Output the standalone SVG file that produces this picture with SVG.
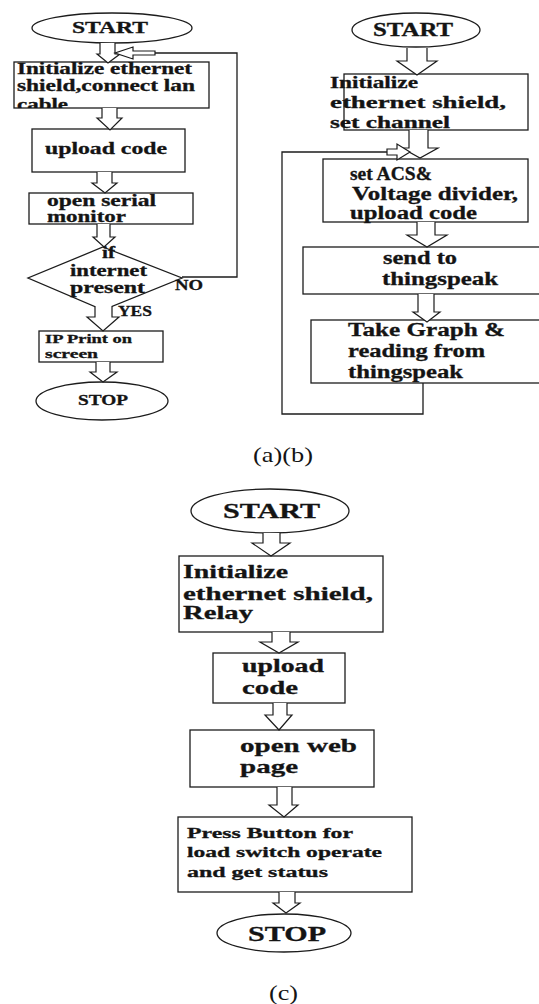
<svg xmlns="http://www.w3.org/2000/svg" width="539" height="1004" viewBox="0 0 539 1004">
  <style>
    .shape { fill: #ffffff; stroke: #1c1c1c; stroke-width: 1.3; }
    .line { fill: none; stroke: #1c1c1c; stroke-width: 1.3; }
    .arrow { fill: #ffffff; stroke: #1c1c1c; stroke-width: 1.2; stroke-linejoin: miter; }
    .t { font-family: "Liberation Serif", "Times New Roman", serif; font-weight: bold; fill: #141414; stroke: #141414; stroke-width: 0.3; }
    .cap { font-family: "Liberation Serif", "Times New Roman", serif; fill: #141414; font-size: 21px; }
  </style>
  <defs>
    <clipPath id="clipA1">
      <rect x="14" y="62" width="195" height="46"/>
    </clipPath>
  </defs>
  <rect width="539" height="1004" fill="#ffffff"/>

  <!-- ===================== Flowchart (a) ===================== -->
  <g id="a-start">
    <ellipse class="shape" cx="112" cy="28" rx="80" ry="15"/>
    <text class="t" x="72" y="33" font-size="16" textLength="76" lengthAdjust="spacingAndGlyphs">START</text>
  </g>
  <g id="a-init">
    <rect class="shape" x="14" y="62" width="195" height="46"/>
    <g clip-path="url(#clipA1)">
      <text class="t" x="17" y="74" font-size="16" textLength="175" lengthAdjust="spacingAndGlyphs">Initialize ethernet</text>
      <text class="t" x="17" y="91" font-size="16" textLength="178" lengthAdjust="spacingAndGlyphs">shield,connect lan</text>
      <text class="t" x="17" y="110" font-size="16" textLength="51" lengthAdjust="spacingAndGlyphs">cable</text>
    </g>
  </g>
  <g id="a-upload">
    <rect class="shape" x="32" y="129" width="153" height="43"/>
    <text class="t" x="45" y="154" font-size="17" textLength="122" lengthAdjust="spacingAndGlyphs">upload code</text>
  </g>
  <g id="a-serial">
    <rect class="shape" x="29" y="193" width="164" height="31"/>
    <text class="t" x="47" y="206" font-size="16" textLength="109" lengthAdjust="spacingAndGlyphs">open serial</text>
    <text class="t" x="47" y="222" font-size="16" textLength="79" lengthAdjust="spacingAndGlyphs">monitor</text>
  </g>
  <g id="a-decision">
    <polygon class="shape" points="103,247 182,278 103,310 28,278"/>
    <text class="t" x="102" y="258" font-size="16" textLength="13" lengthAdjust="spacingAndGlyphs">if</text>
    <text class="t" x="70" y="276" font-size="16" textLength="77" lengthAdjust="spacingAndGlyphs">internet</text>
    <text class="t" x="70" y="293" font-size="16" textLength="75" lengthAdjust="spacingAndGlyphs">present</text>
  </g>
  <g id="a-ip">
    <rect class="shape" x="39" y="331" width="124" height="31"/>
    <text class="t" x="45" y="343" font-size="13" textLength="87" lengthAdjust="spacingAndGlyphs">IP Print on</text>
    <text class="t" x="45" y="358" font-size="13" textLength="53" lengthAdjust="spacingAndGlyphs">screen</text>
  </g>
  <g id="a-stop">
    <ellipse class="shape" cx="102" cy="401" rx="66" ry="19"/>
    <text class="t" x="78" y="405" font-size="15" textLength="50" lengthAdjust="spacingAndGlyphs">STOP</text>
  </g>

  <g id="a-connectors">
    <path class="arrow" d="M100,43 V54 H97 L108,63 L120,54 H115 V43"/>
    <path class="arrow" d="M102,108 V118 H97 L110,130 L122,118 H117 V108"/>
    <path class="arrow" d="M97,172 V183 H92 L105,193 L117,183 H112 V172"/>
    <path class="arrow" d="M97,224 V237 H93 L104,247 L115,237 H110 V224"/>
    <path class="arrow" d="M95,306 V317 H87 L103,331 L119,317 H112 V306"/>
    <path class="arrow" d="M96,362 V372 H90 L103,382 L117,372 H110 V362"/>
    <!-- NO branch loops back to the first step -->
    <polyline class="line" points="182,277 237,277 237,53 155,53"/>
    <path class="arrow" d="M155,51 H133 V47 L115,53 L133,59 V55 H155 Z"/>
    <text class="t" x="175" y="290" font-size="15" textLength="28" lengthAdjust="spacingAndGlyphs">NO</text>
    <text class="t" x="118" y="316" font-size="15" textLength="34" lengthAdjust="spacingAndGlyphs">YES</text>
  </g>

  <!-- ===================== Flowchart (b) ===================== -->
  <g id="b-start">
    <ellipse class="shape" cx="416" cy="30" rx="64" ry="17"/>
    <text class="t" x="373" y="36" font-size="18" textLength="80" lengthAdjust="spacingAndGlyphs">START</text>
  </g>
  <g id="b-init">
    <rect class="shape" x="344" y="74" width="184" height="56"/>
    <text class="t" x="330" y="88" font-size="17" textLength="88" lengthAdjust="spacingAndGlyphs">Initialize</text>
    <text class="t" x="330" y="108" font-size="17" textLength="176" lengthAdjust="spacingAndGlyphs">ethernet shield,</text>
    <text class="t" x="330" y="128" font-size="17" textLength="120" lengthAdjust="spacingAndGlyphs">set channel</text>
  </g>
  <g id="b-acs">
    <rect class="shape" x="323" y="159" width="205" height="63"/>
    <text class="t" x="350" y="180" font-size="18" textLength="82" lengthAdjust="spacingAndGlyphs">set ACS&amp;</text>
    <text class="t" x="352" y="200" font-size="18" textLength="166" lengthAdjust="spacingAndGlyphs">Voltage divider,</text>
    <text class="t" x="350" y="219" font-size="18" textLength="127" lengthAdjust="spacingAndGlyphs">upload code</text>
  </g>
  <g id="b-send">
    <rect class="shape" x="303" y="247" width="240" height="47"/>
    <text class="t" x="383" y="264" font-size="18" textLength="74" lengthAdjust="spacingAndGlyphs">send to</text>
    <text class="t" x="382" y="285" font-size="18" textLength="116" lengthAdjust="spacingAndGlyphs">thingspeak</text>
  </g>
  <g id="b-graph">
    <rect class="shape" x="311" y="320" width="232" height="63"/>
    <text class="t" x="348" y="336" font-size="18" textLength="157" lengthAdjust="spacingAndGlyphs">Take Graph &amp;</text>
    <text class="t" x="348" y="357" font-size="18" textLength="137" lengthAdjust="spacingAndGlyphs">reading from</text>
    <text class="t" x="348" y="378" font-size="18" textLength="115" lengthAdjust="spacingAndGlyphs">thingspeak</text>
  </g>

  <g id="b-connectors">
    <path class="arrow" d="M407,48 V61 H397 L417,75 L437,61 H427 V48"/>
    <path class="arrow" d="M409,130 V148 H402 L420,158 L438,148 H428 V130"/>
    <path class="arrow" d="M417,222 V235 H407 L427,247 L447,235 H435 V222"/>
    <path class="arrow" d="M418,294 V312 H413 L427,322 L440,312 H434 V294"/>
    <!-- repeat loop back to the measurement step -->
    <polyline class="line" points="423,383 423,414 282,414 282,152 387,152"/>
    <path class="arrow" d="M387,149 H397 V144 L410,152 L397,160 V155 H387 Z"/>
  </g>

  <text id="caption-ab" class="cap" x="253" y="462" textLength="60" lengthAdjust="spacingAndGlyphs">(a)(b)</text>

  <!-- ===================== Flowchart (c) ===================== -->
  <g id="c-start">
    <ellipse class="shape" cx="270" cy="511" rx="79" ry="22"/>
    <text class="t" x="223" y="518" font-size="20" textLength="97" lengthAdjust="spacingAndGlyphs">START</text>
  </g>
  <g id="c-init">
    <rect class="shape" x="179" y="556" width="204" height="76"/>
    <text class="t" x="183" y="578" font-size="19" textLength="105" lengthAdjust="spacingAndGlyphs">Initialize</text>
    <text class="t" x="183" y="600" font-size="19" textLength="190" lengthAdjust="spacingAndGlyphs">ethernet shield,</text>
    <text class="t" x="183" y="619" font-size="19" textLength="70" lengthAdjust="spacingAndGlyphs">Relay</text>
  </g>
  <g id="c-upload">
    <rect class="shape" x="213" y="653" width="132" height="50"/>
    <text class="t" x="242" y="672" font-size="19" textLength="82" lengthAdjust="spacingAndGlyphs">upload</text>
    <text class="t" x="242" y="694" font-size="19" textLength="56" lengthAdjust="spacingAndGlyphs">code</text>
  </g>
  <g id="c-web">
    <rect class="shape" x="190" y="730" width="184" height="57"/>
    <text class="t" x="240" y="752" font-size="19" textLength="117" lengthAdjust="spacingAndGlyphs">open web</text>
    <text class="t" x="240" y="773" font-size="19" textLength="58" lengthAdjust="spacingAndGlyphs">page</text>
  </g>
  <g id="c-button">
    <rect class="shape" x="178" y="817" width="234" height="75"/>
    <text class="t" x="187" y="838" font-size="15" textLength="166" lengthAdjust="spacingAndGlyphs">Press Button for</text>
    <text class="t" x="187" y="857" font-size="15" textLength="195" lengthAdjust="spacingAndGlyphs">load switch operate</text>
    <text class="t" x="187" y="877" font-size="15" textLength="141" lengthAdjust="spacingAndGlyphs">and get status</text>
  </g>
  <g id="c-stop">
    <ellipse class="shape" cx="284" cy="933" rx="67" ry="19"/>
    <text class="t" x="248" y="941" font-size="20" textLength="78" lengthAdjust="spacingAndGlyphs">STOP</text>
  </g>

  <g id="c-connectors">
    <path class="arrow" d="M263,533 V543 H252 L271,556 L290,543 H280 V533"/>
    <path class="arrow" d="M272,632 V642 H260 L279,653 L298,642 H290 V632"/>
    <path class="arrow" d="M273,703 V715 H265 L279,730 L292,715 H287 V703"/>
    <path class="arrow" d="M277,787 V805 H269 L284,817 L298,805 H292 V787"/>
    <path class="arrow" d="M279,892 V903 H273 L286,913 L300,903 H295 V892"/>
  </g>

  <text id="caption-c" class="cap" x="269" y="1000" textLength="29" lengthAdjust="spacingAndGlyphs">(c)</text>
</svg>
